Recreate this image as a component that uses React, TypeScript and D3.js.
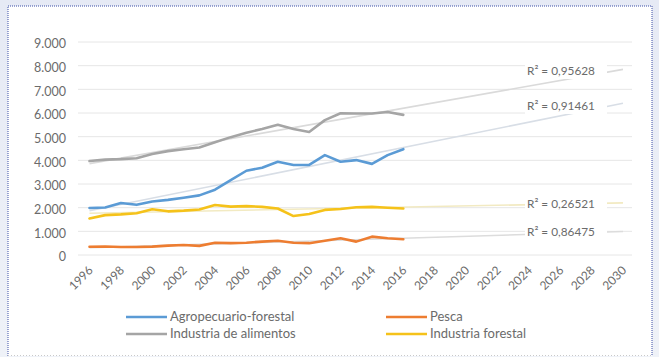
import React from "react";
import * as d3 from "d3";

// Years with observations and the full projected axis
const years: number[] = d3.range(1996, 2017);
const axisYears: number[] = d3.range(1996, 2031);
const tickYears: number[] = d3.range(1996, 2031, 2);
const yTicks: number[] = d3.range(0, 9001, 1000);

// Series values (one per year, 1996–2016)
const agropecuario: number[] = [1985, 2010, 2200, 2120, 2260, 2330, 2420, 2520, 2760, 3160, 3560, 3690, 3940, 3800, 3810, 4220, 3940, 4010, 3850, 4220, 4470];
const pesca: number[] = [350, 360, 335, 335, 355, 395, 425, 385, 520, 500, 520, 565, 605, 520, 500, 605, 705, 565, 775, 705, 665];
const alimentos: number[] = [3970, 4030, 4050, 4090, 4270, 4390, 4470, 4540, 4760, 4980, 5170, 5320, 5500, 5320, 5200, 5700, 5990, 5980, 5980, 6040, 5920];
const forestal: number[] = [1545, 1685, 1715, 1765, 1935, 1845, 1875, 1925, 2115, 2045, 2065, 2035, 1965, 1645, 1735, 1905, 1945, 2015, 2035, 1995, 1965];

const seriesNames: string[] = ["Agropecuario-forestal", "Pesca", "Industria de alimentos", "Industria forestal"];
const r2Labels: string[] = ["R² = 0,91461", "R² = 0,86475", "R² = 0,95628", "R² = 0,26521"];

const colors = ["#5b9bd5", "#ed7d31", "#a5a5a5", "#f5c21a"];
const trendColors = ["#d8dee6", "#dcdcdc", "#dadada", "#f2eac2"];

const W = 659;
const H = 357;
const plot = { left: 78, right: 632, top: 42, bottom: 255 };
const FONT = "Lato, 'Open Sans', sans-serif";
const TEXT = "#6b6b6b";

const x = d3.scalePoint<number>().domain(axisYears).range([89.5, 623]);
const y = d3.scaleLinear().domain([0, 9000]).range([plot.bottom, plot.top]);

// Least-squares linear fit over the year index
function linearFit(values: number[]) {
  const xs = years;
  const mx = d3.mean(xs)!;
  const my = d3.mean(values)!;
  let num = 0;
  let den = 0;
  xs.forEach((xv, i) => {
    num += (xv - mx) * (values[i] - my);
    den += (xv - mx) * (xv - mx);
  });
  const slope = num / den;
  return (yr: number) => my + slope * (yr - mx);
}

const allSeries = [agropecuario, pesca, alimentos, forestal];
// Placement of the R² labels (px)
const r2Pos: { x: number; y: number }[] = [
  { x: 527, y: 107 },
  { x: 527, y: 233 },
  { x: 527, y: 72 },
  { x: 527, y: 205 },
];
const drawOrder = [0, 1, 2, 3];

const legendItems = [
  { idx: 0, x: 126, y: 317 },
  { idx: 1, x: 386, y: 317 },
  { idx: 2, x: 126, y: 334 },
  { idx: 3, x: 386, y: 334 },
];

export default function App() {
  const line = d3
    .line<number>()
    .x((_, i) => x(years[i])!)
    .y((d) => y(d));

  return (
    <div style={{ position: "fixed", left: 0, top: 0, width: W, height: H }}>
      <svg width={W} height={H} viewBox={`0 0 ${W} ${H}`} style={{ display: "block" }}>
        <defs>
          <linearGradient id="haze" x1="0" y1="0" x2="0" y2="1">
            <stop offset="0" stopColor="#e6eaf5" />
            <stop offset="1" stopColor="#eff2f8" />
          </linearGradient>
        </defs>
        <rect x={0} y={0} width={W} height={H} fill="url(#haze)" />
        <rect x={8} y={6} width={644} height={350} fill="#ffffff" />
        <path
          d={`M8,356 L8,6 L652,6 L652,356`}
          fill="none"
          stroke="#3c4fa6"
          strokeWidth={1}
          strokeDasharray="1,1"
        />
        <line x1={8} y1={355.5} x2={652} y2={355.5} stroke="#c9c9c9" strokeDasharray="1,2" />

        {/* horizontal gridlines */}
        {yTicks.map((t) => (
          <line
            key={"g" + t}
            x1={plot.left}
            x2={plot.right}
            y1={y(t)}
            y2={y(t)}
            stroke="#e6e6e6"
            strokeWidth={1}
          />
        ))}

        {/* y-axis labels */}
        {yTicks.map((t) => (
          <text
            key={"yl" + t}
            x={66}
            y={y(t) + 3}
            textAnchor="end"
            dominantBaseline="middle"
            fontFamily={FONT}
            fontSize={12.5}
            fill={TEXT}
          >
            {d3.format(",")(t).replace(/,/g, ".")}
          </text>
        ))}

        {/* x-axis labels, rotated */}
        {tickYears.map((yr) => {
          const px = x(yr)! + 2;
          const py = 269;
          return (
            <text
              key={"xl" + yr}
              transform={`translate(${px},${py}) rotate(-45)`}
              textAnchor="end"
              dominantBaseline="middle"
              fontFamily={FONT}
              fontSize={12}
              fill={TEXT}
            >
              {yr}
            </text>
          );
        })}

        {/* linear trendlines with forecast to 2030 */}
        {drawOrder.map((i) => {
          const fit = linearFit(allSeries[i]);
          return (
            <line
              key={"t" + i}
              x1={x(1996)}
              y1={y(fit(1996))}
              x2={x(2030)}
              y2={y(fit(2030))}
              stroke={trendColors[i]}
              strokeWidth={1.6}
            />
          );
        })}

        {/* data series */}
        {drawOrder.map((i) => (
          <path
            key={"s" + i}
            d={line(allSeries[i]) || ""}
            fill="none"
            stroke={colors[i]}
            strokeWidth={2.6}
            strokeLinejoin="round"
            strokeLinecap="round"
          />
        ))}

        {/* R² labels on a white backing */}
        {r2Labels.map((lbl, i) => (
          <g key={"r" + i}>
            <rect x={r2Pos[i].x - 2} y={r2Pos[i].y - 7} width={82} height={14} fill="#ffffff" />
            <text
              x={r2Pos[i].x}
              y={r2Pos[i].y}
              dominantBaseline="middle"
              fontFamily={FONT}
              fontSize={11.8}
              fill={TEXT}
            >
              {lbl}
            </text>
          </g>
        ))}

        {/* legend */}
        {legendItems.map((it) => (
          <g key={"lg" + it.idx}>
            <line
              x1={it.x}
              x2={it.x + 41}
              y1={it.y}
              y2={it.y}
              stroke={colors[it.idx]}
              strokeWidth={2.6}
            />
            <text
              x={it.x + 44}
              y={it.y + 1}
              dominantBaseline="middle"
              fontFamily={FONT}
              fontSize={13}
              fill={TEXT}
            >
              {seriesNames[it.idx]}
            </text>
          </g>
        ))}
      </svg>
    </div>
  );
}
